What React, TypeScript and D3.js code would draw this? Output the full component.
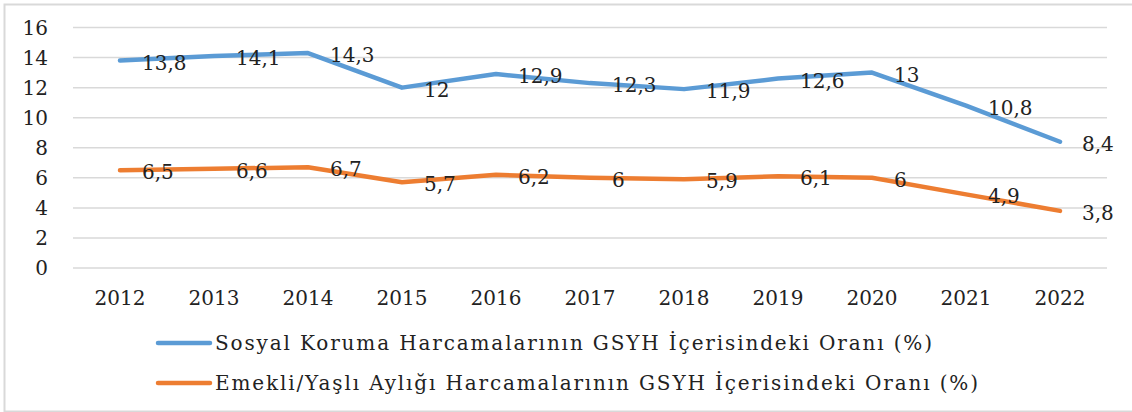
import React from "react";
import * as d3 from "d3";

const years = ["2012","2013","2014","2015","2016","2017","2018","2019","2020","2021","2022"];
const sosyal = [13.8,14.1,14.3,12,12.9,12.3,11.9,12.6,13,10.8,8.4];
const emekli = [6.5,6.6,6.7,5.7,6.2,6,5.9,6.1,6,4.9,3.8];
const yTicks = [0,2,4,6,8,10,12,14,16];
const seriesNames = [
  "Sosyal Koruma Harcamalarının GSYH İçerisindeki Oranı (%)",
  "Emekli/Yaşlı Aylığı Harcamalarının GSYH İçerisindeki Oranı (%)",
];
const legendWidths = [717, 763];
const colors = ["#5B9BD5", "#ED7D31"];

const W = 1132, H = 412;
const FONT = "'DejaVu Serif', 'Liberation Serif', serif";

export default function App() {
  const x = d3.scaleBand<string>().domain(years).range([73, 1107]);
  const y = d3.scaleLinear().domain([0, 16]).range([268, 27.5]);
  const line = d3.line<number>()
    .x((_, i) => (x(years[i]) as number) + x.bandwidth() / 2)
    .y((d) => y(d));
  const fmt = (v: number) => String(v).replace(".", ",");
  const series = [sosyal, emekli];
  return (
    <svg width={W} height={H} style={{ position: "absolute", left: 0, top: 0, background: "#fff" }} fontFamily={FONT}>
      <rect x={4.5} y={4.5} width={W + 10} height={H - 5} fill="#fff" stroke="#d9d9d9" strokeWidth={2} />
      {yTicks.map((t) => (
        <g key={t}>
          <line x1={73} x2={1107} y1={y(t)} y2={y(t)} stroke="#d9d9d9" strokeWidth={1.5} />
          <text x={48} y={y(t)} textAnchor="end" dominantBaseline="central" fontSize={20} fill="#222">{t}</text>
        </g>
      ))}
      {years.map((yr) => (
        <text key={yr} x={(x(yr) as number) + x.bandwidth() / 2} y={298} textAnchor="middle" dominantBaseline="central" fontSize={20} fill="#222">{yr}</text>
      ))}
      {series.map((s, k) => (
        <g key={k}>
          <path d={line(s) || ""} fill="none" stroke={colors[k]} strokeWidth={4.5} strokeLinecap="round" strokeLinejoin="round" />
          {s.map((v, i) => (
            <text key={i} x={(x(years[i]) as number) + x.bandwidth() / 2 + 22} y={y(v) + 2} dominantBaseline="central" fontSize={20} fill="#222">{fmt(v)}</text>
          ))}
        </g>
      ))}
      {seriesNames.map((n, k) => (
        <g key={n}>
          <line x1={158} x2={210} y1={343 + k * 40} y2={343 + k * 40} stroke={colors[k]} strokeWidth={4.5} strokeLinecap="round" />
          <text x={215} y={343 + k * 40} dominantBaseline="central" fontSize={20} fill="#222" textLength={legendWidths[k]} lengthAdjust="spacing">{n}</text>
        </g>
      ))}
    </svg>
  );
}
